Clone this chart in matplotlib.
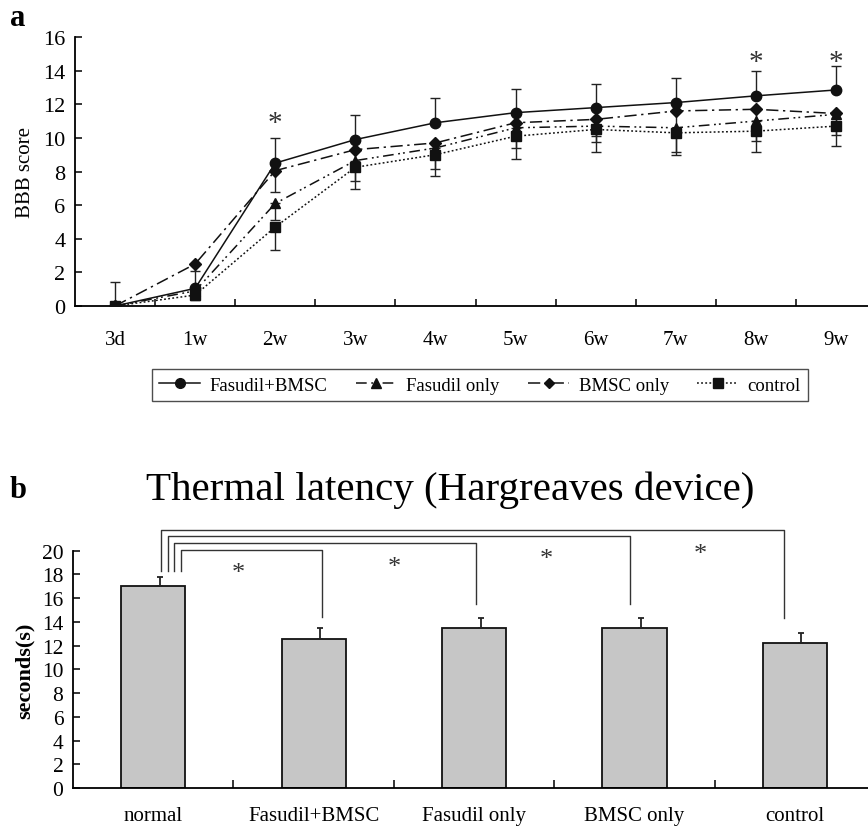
import matplotlib
matplotlib.use("Agg")
import matplotlib.pyplot as plt
from matplotlib.lines import Line2D
import numpy as np

plt.rcParams['font.family'] = ['Liberation Serif', 'DejaVu Serif']

# ---------------- data: panel a ----------------
time_labels = ["3d", "1w", "2w", "3w", "4w", "5w", "6w", "7w", "8w", "9w"]
series_names = ["Fasudil+BMSC", "Fasudil only", "BMSC only", "control"]
fas_bmsc = [0.0, 1.05, 8.5, 9.9, 10.9, 11.5, 11.8, 12.1, 12.5, 12.85]
fas_bmsc_err = [1.45, 1.45, 1.5, 1.45, 1.45, 1.4, 1.4, 1.45, 1.5, 1.45]
fas_only = [0.0, 0.9, 6.1, 8.65, 9.4, 10.6, 10.7, 10.6, 11.0, 11.4]
fas_only_err = [0.0, 0.3, 1.0, 1.2, 1.25, 1.2, 0.95, 1.45, 1.2, 1.2]
bmsc_only = [0.0, 2.5, 8.05, 9.3, 9.7, 10.9, 11.1, 11.6, 11.7, 11.45]
bmsc_only_err = [0.0, 0.4, 1.25, 1.0, 0.95, 1.0, 1.0, 1.1, 1.1, 1.0]
control = [0.0, 0.65, 4.7, 8.25, 9.0, 10.1, 10.5, 10.3, 10.4, 10.7]
control_err = [0.0, 0.3, 1.35, 1.3, 1.25, 1.35, 1.35, 1.3, 1.25, 1.2]
star_times_a = [2, 8, 9]
star_y_a = [11.3, 14.9, 14.9]

# ---------------- data: panel b ----------------
groups = ["normal", "Fasudil+BMSC", "Fasudil only", "BMSC only", "control"]
latency = [17.0, 12.55, 13.45, 13.5, 12.25]
latency_err = [0.8, 0.92, 0.87, 0.82, 0.82]
bracket_targets = [1, 2, 3, 4]
bracket_heights = [20.08, 20.64, 21.2, 21.74]
star_y_b = [18.7, 19.15, 19.85, 20.3]

fig = plt.figure(figsize=(8.68, 8.29), dpi=100)

# ================= panel a =================
axa = fig.add_axes([75/868, 1-307/829, (868-75)/868, 269/829])
x = np.arange(len(time_labels))
styles = [
    dict(data=fas_bmsc, err=fas_bmsc_err, marker='o', ls='-', ms=7.5, up=True),
    dict(data=fas_only, err=fas_only_err, marker='^', ls=(0, (7, 3, 1.2, 2, 1.2, 3)), ms=7.5, up=False),
    dict(data=bmsc_only, err=bmsc_only_err, marker='D', ls=(0, (8, 3, 1.5, 3)), ms=6, up=False),
    dict(data=control, err=control_err, marker='s', ls=(0, (1.2, 1.5)), ms=7, up=False),
]
handles = []
for name, st in zip(series_names, styles):
    d = np.array(st['data'])
    e = np.array(st['err'])
    if st['up']:
        yerr = [np.zeros_like(e), e]
    else:
        yerr = [e, np.zeros_like(e)]
    axa.errorbar(x, d, yerr=yerr, fmt='none', ecolor='#222222', elinewidth=1.0,
                 capsize=3.5, capthick=1.0, zorder=2)
    axa.plot(x, d, color='#111111', ls=st['ls'], lw=1.1, marker=st['marker'],
             ms=st['ms'], mfc='#111111', mec='#111111', zorder=3)
    handles.append(Line2D([0], [0], color='#111111', ls=st['ls'], lw=1.1,
                          marker=st['marker'], ms=st['ms'] - 0.5, mfc='#111111',
                          mec='#111111'))

for xt, yt in zip(star_times_a, star_y_a):
    axa.annotate('*', (xt, yt), xytext=(0, -10), textcoords='offset points',
                 ha='center', va='baseline', fontsize=21, color='#333333',
                 annotation_clip=False)

axa.set_xlim(-0.5, 9.4)
axa.set_ylim(0, 16)
axa.set_yticks(np.arange(0, 17, 2))
axa.set_xticks(x)
axa.set_xticklabels(time_labels, fontsize=15)
axa.set_xticks(np.arange(0.5, 9, 1), minor=True)
axa.tick_params(axis='x', which='major', length=0, pad=17)
axa.tick_params(axis='x', which='minor', direction='in', length=5, width=1.1)
axa.tick_params(axis='y', direction='in', length=5, width=1.1, labelsize=16, pad=7)
for s in ['top', 'right']:
    axa.spines[s].set_visible(False)
for s in ['left', 'bottom']:
    axa.spines[s].set_linewidth(1.3)
axa.set_ylabel('BBB score', fontsize=15, labelpad=6)

leg = fig.legend(handles, series_names, loc='center',
                 bbox_to_anchor=(480/868, 1-386/829), ncol=4, fontsize=13.5,
                 frameon=True, fancybox=False, edgecolor='#222222',
                 handlelength=2.2, handletextpad=0.5, columnspacing=1.5,
                 borderpad=0.4)
leg.get_frame().set_linewidth(1.0)

fig.text(10/868, 1-18/829, 'a', fontsize=22, fontweight='bold', ha='left', va='center')

# ================= panel b =================
axb = fig.add_axes([73/868, 1-789/829, 795/868, 237.3/829])
xb = np.arange(len(groups))
axb.bar(xb, latency, width=0.4, color='#c6c6c6', edgecolor='#111111',
        linewidth=1.3, zorder=2)
axb.errorbar(xb + 0.04, latency, yerr=[np.zeros(len(latency)), latency_err],
             fmt='none', ecolor='#222222', elinewidth=1.3, capsize=2.5,
             capthick=1.3, zorder=3)

left_x = [0.175, 0.13, 0.09, 0.05]
right_x = [1.055, 2.01, 2.97, 3.93]
right_bottom = [14.38, 15.5, 15.5, 14.3]
for lx, rx, h, rb in zip(left_x, right_x, bracket_heights, right_bottom):
    axb.plot([lx, lx, rx, rx], [18.3, h, h, rb], color='#333333', lw=1.0,
             clip_on=False, zorder=1)

star_x_b = [0.53, 1.5, 2.45, 3.41]
for sx, sy in zip(star_x_b, star_y_b):
    axb.annotate('*', (sx, sy), xytext=(0, -9), textcoords='offset points',
                 ha='center', va='baseline', fontsize=19, color='#333333',
                 annotation_clip=False)

axb.set_xlim(-0.5, 4.455)
axb.set_ylim(0, 20)
axb.set_yticks(np.arange(0, 21, 2))
axb.set_xticks(xb)
axb.set_xticklabels(groups, fontsize=15)
axb.set_xticks(np.arange(0.5, 4, 1), minor=True)
axb.tick_params(axis='x', which='major', length=0, pad=13)
axb.tick_params(axis='x', which='minor', direction='in', length=6, width=1.1)
axb.tick_params(axis='y', direction='in', length=5, width=1.1, labelsize=15.5, pad=7)
for s in ['top', 'right']:
    axb.spines[s].set_visible(False)
for s in ['left', 'bottom']:
    axb.spines[s].set_linewidth(1.3)
axb.set_ylabel('seconds(s)', fontsize=16, fontweight='bold', labelpad=5)

fig.text(450/868, 1-490/829, 'Thermal latency (Hargreaves device)', fontsize=29.5,
         ha='center', va='center')
fig.text(10/868, 1-490/829, 'b', fontsize=22, fontweight='bold', ha='left', va='center')

fig.savefig('out.png', dpi=100)
